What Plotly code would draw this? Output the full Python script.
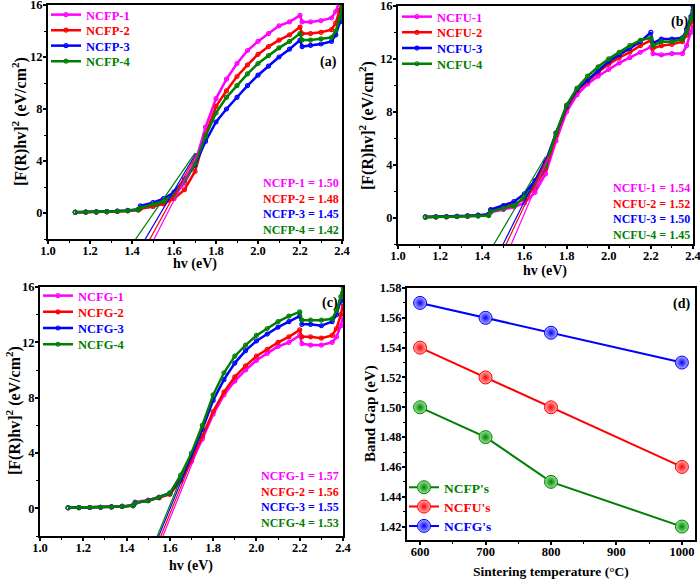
import plotly.graph_objects as go

# ---------------- data ----------------
E = [1.13, 1.18, 1.23, 1.28, 1.33, 1.38, 1.43, 1.44, 1.5, 1.55, 1.6, 1.65, 1.7, 1.75, 1.8,
     1.85, 1.9, 1.95, 2.0, 2.05, 2.1, 2.15, 2.2, 2.21, 2.25, 2.3, 2.35, 2.37, 2.39, 2.4]

# panel (a)
NCFP_1 = [0.05, 0.06, 0.08, 0.10, 0.13, 0.18, 0.25, 0.35, 0.5, 0.75, 1.3, 2.3, 3.8, 6.6, 8.8,
          10.3, 11.5, 12.5, 13.2, 13.8, 14.4, 14.7, 15.2, 14.7, 14.7, 14.8, 15.0, 15.5, 16.3, 16.8]
NCFP_2 = [0.05, 0.06, 0.07, 0.09, 0.12, 0.16, 0.22, 0.35, 0.5, 0.7, 1.1, 1.8, 3.2, 6.0, 8.2,
          9.4, 10.5, 11.4, 12.2, 12.8, 13.3, 13.7, 14.3, 13.8, 13.8, 13.9, 14.1, 14.6, 15.6, 16.2]
NCFP_3 = [0.06, 0.07, 0.09, 0.11, 0.15, 0.20, 0.28, 0.55, 0.8, 1.1, 1.6, 2.6, 3.7, 5.5, 7.0,
          8.0, 8.9, 9.8, 10.6, 11.3, 12.0, 12.6, 13.3, 12.8, 12.9, 13.0, 13.2, 13.7, 14.7, 15.6]
NCFP_4 = [0.05, 0.06, 0.08, 0.10, 0.13, 0.18, 0.25, 0.4, 0.65, 0.9, 1.4, 2.5, 3.8, 5.9, 7.7,
          8.9, 9.8, 10.7, 11.5, 12.1, 12.7, 13.2, 13.8, 13.3, 13.3, 13.4, 13.5, 14.0, 15.0, 15.8]

# panel (b)
NCFU_1 = [0.04, 0.05, 0.06, 0.08, 0.10, 0.14, 0.20, 0.4, 0.6, 0.8, 1.1, 1.9, 3.3, 5.8, 8.0,
          9.3, 10.1, 10.7, 11.2, 11.7, 12.1, 12.5, 12.9, 12.4, 12.3, 12.4, 12.4, 13.0, 14.0, 14.6]
NCFU_2 = [0.04, 0.05, 0.07, 0.09, 0.12, 0.16, 0.22, 0.55, 0.8, 1.0, 1.4, 2.3, 3.7, 6.2, 8.3,
          9.6, 10.3, 11.0, 11.6, 12.1, 12.5, 13.0, 13.4, 12.8, 13.0, 13.1, 13.3, 13.8, 14.8, 15.4]
NCFU_3 = [0.05, 0.06, 0.08, 0.10, 0.13, 0.18, 0.25, 0.6, 0.9, 1.2, 1.8, 2.8, 4.2, 6.4, 8.4,
          9.7, 10.4, 11.1, 11.8, 12.3, 12.8, 13.3, 14.0, 13.2, 13.5, 13.5, 13.6, 14.2, 15.2, 16.0]
NCFU_4 = [0.02, 0.03, 0.04, 0.06, 0.08, 0.11, 0.15, 0.45, 0.7, 0.9, 1.5, 2.5, 3.9, 6.4, 8.5,
          9.8, 10.7, 11.4, 12.0, 12.5, 13.0, 13.4, 13.6, 13.0, 13.3, 13.3, 13.5, 14.0, 15.0, 15.7]

# panel (c)
NCFG_1 = [0.04, 0.05, 0.06, 0.08, 0.10, 0.14, 0.20, 0.45, 0.6, 0.8, 1.1, 2.0, 3.4, 5.0, 6.8,
          8.2, 9.2, 10.0, 10.7, 11.2, 11.7, 12.0, 12.5, 11.9, 11.8, 11.8, 12.0, 12.4, 13.2, 13.8]
NCFG_2 = [0.04, 0.05, 0.06, 0.08, 0.10, 0.14, 0.20, 0.4, 0.55, 0.75, 1.0, 2.0, 3.5, 5.2, 7.0,
          8.4, 9.5, 10.3, 11.0, 11.5, 12.0, 12.4, 12.9, 12.4, 12.4, 12.3, 12.5, 13.0, 14.0, 14.8]
NCFG_3 = [0.04, 0.05, 0.06, 0.08, 0.10, 0.14, 0.20, 0.4, 0.55, 0.8, 1.1, 2.2, 3.8, 5.7, 7.8,
          9.3, 10.5, 11.4, 12.1, 12.6, 13.1, 13.5, 13.9, 13.3, 13.3, 13.2, 13.5, 14.0, 15.0, 15.6]
NCFG_4 = [0.04, 0.05, 0.06, 0.08, 0.10, 0.14, 0.20, 0.4, 0.55, 0.8, 1.1, 2.4, 4.0, 6.0, 8.2,
          9.8, 11.0, 11.8, 12.5, 13.0, 13.5, 13.9, 14.2, 13.6, 13.6, 13.6, 13.7, 14.3, 15.3, 16.0]

names_a = ["NCFP-1", "NCFP-2", "NCFP-3", "NCFP-4"]
names_b = ["NCFU-1", "NCFU-2", "NCFU-3", "NCFU-4"]
names_c = ["NCFG-1", "NCFG-2", "NCFG-3", "NCFG-4"]
gaps_a = ["1.50", "1.48", "1.45", "1.42"]
gaps_b = ["1.54", "1.52", "1.50", "1.45"]
gaps_c = ["1.57", "1.56", "1.55", "1.53"]

# tangent (extrapolation) lines: bottom point and top point, per sample
tan_a_x0 = [1.480, 1.460, 1.445, 1.405]
tan_a_y0 = [-2.8, -2.75, -2.5, -2.3]
tan_a_x1 = [1.715, 1.710, 1.705, 1.700]
tan_a_y1 = [4.6, 4.6, 4.6, 4.6]

tan_b_x0 = [1.530, 1.505, 1.490, 1.445]
tan_b_y0 = [-2.3, -2.3, -2.3, -2.3]
tan_b_x1 = [1.715, 1.710, 1.705, 1.700]
tan_b_y1 = [4.6, 4.6, 4.6, 4.6]

tan_c_x0 = [1.532, 1.522, 1.512, 1.505]
tan_c_y0 = [-3.4, -3.4, -3.4, -3.4]
tan_c_x1 = [1.738, 1.730, 1.722, 1.715]
tan_c_y1 = [4.6, 4.6, 4.6, 4.6]

# panel (d)
temperature = [600, 700, 800, 1000]
gap_NCFP = [1.50, 1.48, 1.45, 1.42]
gap_NCFU = [1.54, 1.52, 1.50, 1.46]
gap_NCFG = [1.57, 1.56, 1.55, 1.53]
names_d = ["NCFP's", "NCFU's", "NCFG's"]

x_ticks_hv = [1.0, 1.2, 1.4, 1.6, 1.8, 2.0, 2.2, 2.4]
y_ticks_f = [0, 4, 8, 12, 16]
x_ticks_t = [600, 700, 800, 900, 1000]
y_ticks_g = [1.42, 1.44, 1.46, 1.48, 1.50, 1.52, 1.54, 1.56, 1.58]

# ---------------- style ----------------
COLORS = ["#FF00FF", "#FF0000", "#0000FF", "#008000"]
FONT = "Liberation Serif"
W, H = 700, 580


def dom_x(x0, x1):
    return [x0 / W, x1 / W]


def dom_y(ytop, ybot):
    return [1 - ybot / H, 1 - ytop / H]


fig = go.Figure()

# legend rows: (panel left px, first row top px, row step px)
legend_layout = {"a": (46, 0, 15.5), "b": (397, 2, 15.7), "c": (38, 281, 16.2), "d": (404, 472, 19.3)}

panels = [
    ("a", "x", "y", [NCFP_1, NCFP_2, NCFP_3, NCFP_4], names_a,
     (tan_a_x0, tan_a_y0, tan_a_x1, tan_a_y1)),
    ("b", "x2", "y2", [NCFU_1, NCFU_2, NCFU_3, NCFU_4], names_b,
     (tan_b_x0, tan_b_y0, tan_b_x1, tan_b_y1)),
    ("c", "x3", "y3", [NCFG_1, NCFG_2, NCFG_3, NCFG_4], names_c,
     (tan_c_x0, tan_c_y0, tan_c_x1, tan_c_y1)),
]

legends = {}
leg_count = [0]


def new_legend(px, py, size):
    leg_count[0] += 1
    key = "legend" if leg_count[0] == 1 else f"legend{leg_count[0]}"
    legends[key] = dict(x=px / W, y=1 - py / H, xanchor="left", yanchor="top",
                        bgcolor="rgba(0,0,0,0)", borderwidth=0, itemwidth=30,
                        font=dict(family=FONT, size=size, weight="bold"))
    return key


for pk, xa, ya, series, names, tans in panels:
    lx, ly, step = legend_layout[pk]
    for i, (s, n) in enumerate(zip(series, names)):
        leg = new_legend(lx, ly + i * step, 12.5)
        fig.add_trace(go.Scatter(
            x=E, y=s, xaxis=xa, yaxis=ya, legend=leg,
            mode="lines+markers",
            name=f"<span style='color:{COLORS[i]}'>{n}</span>",
            line=dict(color=COLORS[i], width=2.5),
            marker=dict(symbol="circle-open", size=4, color=COLORS[i], line=dict(width=1.2)),
        ))
    tx0, ty0, tx1, ty1 = tans
    for i in range(4):
        fig.add_trace(go.Scatter(
            x=[tx0[i], tx1[i]], y=[ty0[i], ty1[i]], xaxis=xa, yaxis=ya,
            mode="lines", showlegend=False,
            line=dict(color=COLORS[i], width=1.2),
        ))

d_series = [gap_NCFP, gap_NCFU, gap_NCFG]
d_colors = ["#008000", "#FF0000", "#0000FF"]
d_light = ["#9be89b", "#ffb0b0", "#b0b0ff"]
lx, ly, step = legend_layout["d"]
for i, (s, n, c, lc) in enumerate(zip(d_series, names_d, d_colors, d_light)):
    leg = new_legend(lx, ly + i * step, 13.5)
    fig.add_trace(go.Scatter(
        x=temperature, y=s, xaxis="x4", yaxis="y4", legend=leg,
        mode="lines+markers",
        name=f"<span style='color:{c}'>{n}</span>",
        line=dict(color=c, width=2),
        marker=dict(size=13, color=lc, gradient=dict(type="radial", color=c),
                    line=dict(color=c, width=1)),
    ))

axis_common = dict(
    showline=True, mirror=True, linecolor="black", linewidth=1.8,
    ticks="outside", ticklen=3, tickwidth=1.5, tickcolor="black",
    showgrid=False, zeroline=False, automargin=False, ticklabeloverflow="allow",
    tickfont=dict(family=FONT, size=12.5, color="black", weight="bold"),
    minor=dict(ticks="outside", ticklen=2, tickwidth=1.2, tickcolor="black", showgrid=False),
)
x_common = dict(ticklabelstandoff=-4, **axis_common)
y_common = dict(ticklabelstandoff=-2, **axis_common)

hv_x = dict(range=[1.0, 2.4], tickvals=x_ticks_hv, tickformat=".1f", minor_dtick=0.1)
f_y = dict(range=[-2, 16], tickvals=y_ticks_f, minor_dtick=2)

layout = dict(
    width=W, height=H, margin=dict(l=0, r=0, t=0, b=0),
    paper_bgcolor="white", plot_bgcolor="white",
    font=dict(family=FONT, size=12, color="black", weight="bold"),
    xaxis=dict(domain=dom_x(48, 342), anchor="y", **hv_x, **x_common),
    yaxis=dict(domain=dom_y(5, 239), anchor="x", **f_y, **y_common),
    xaxis2=dict(domain=dom_x(398, 693), anchor="y2", **hv_x, **x_common),
    yaxis2=dict(domain=dom_y(6, 244), anchor="x2", **f_y, **y_common),
    xaxis3=dict(domain=dom_x(40, 343), anchor="y3", **hv_x, **x_common),
    yaxis3=dict(domain=dom_y(287, 536), anchor="x3", **f_y, **y_common),
    xaxis4=dict(domain=dom_x(407, 695), anchor="y4", range=[580, 1020], tickvals=x_ticks_t,
                minor_dtick=50, **x_common),
    yaxis4=dict(domain=dom_y(288, 540), anchor="x4", range=[1.411, 1.58], tickvals=y_ticks_g,
                tickformat=".2f", minor_dtick=0.01, **y_common),
)
layout.update(legends)
fig.update_layout(**layout)

# axis titles (pixel centres measured on the reference)
YT = "[F(R)hv]<sup>2</sup> (eV/cm<sup>2</sup>)"
titles = [
    ("hv (eV)", 195, 264, 0, 14), (YT, 20, 122, -90, 16),
    ("hv (eV)", 545, 271, 0, 14), (YT, 367, 125, -90, 16),
    ("hv (eV)", 191, 566, 0, 14), (YT, 13, 411, -90, 16),
    ("Sintering temperature (°C)", 551, 571, 0, 13.5), ("Band Gap (eV)", 370, 414, -90, 15),
]
for txt, px, py, ang, fs in titles:
    fig.add_annotation(text=txt, xref="paper", yref="paper", x=px / W, y=1 - py / H,
                       xanchor="center", yanchor="middle", textangle=ang, showarrow=False,
                       font=dict(family=FONT, size=fs, weight="bold", color="black"))

# band gap annotations and panel labels
for xa, ya, names, gaps, yy in [("x", "y", names_a, gaps_a, 0.0), ("x2", "y2", names_b, gaps_b, 0.0),
                                ("x3", "y3", names_c, gaps_c, 0.016)]:
    txt = "<br>".join(f"<span style='color:{COLORS[i]}'>{n} = {g}</span>"
                      for i, (n, g) in enumerate(zip(names, gaps)))
    fig.add_annotation(text=txt, xref=f"{xa} domain", yref=f"{ya} domain", x=0.995, y=yy,
                       xanchor="right", yanchor="bottom", align="right", showarrow=False,
                       font=dict(family=FONT, size=12, weight="bold"))

label_pos = {"(a)": ("x", "y", 0.99, 0.80), "(b)": ("x2", "y2", 0.99, 0.975),
             "(c)": ("x3", "y3", 0.99, 0.975), "(d)": ("x4", "y4", 0.99, 0.975)}
for lab, (xa, ya, xx, yy) in label_pos.items():
    fig.add_annotation(text=lab, xref=f"{xa} domain", yref=f"{ya} domain", x=xx, y=yy,
                       xanchor="right", yanchor="top", showarrow=False,
                       font=dict(family=FONT, size=14, weight="bold", color="black"))

fig.write_html("out.html", config={"displayModeBar": False},
               post_script="document.body.style.margin='0';document.body.style.padding='0';")
